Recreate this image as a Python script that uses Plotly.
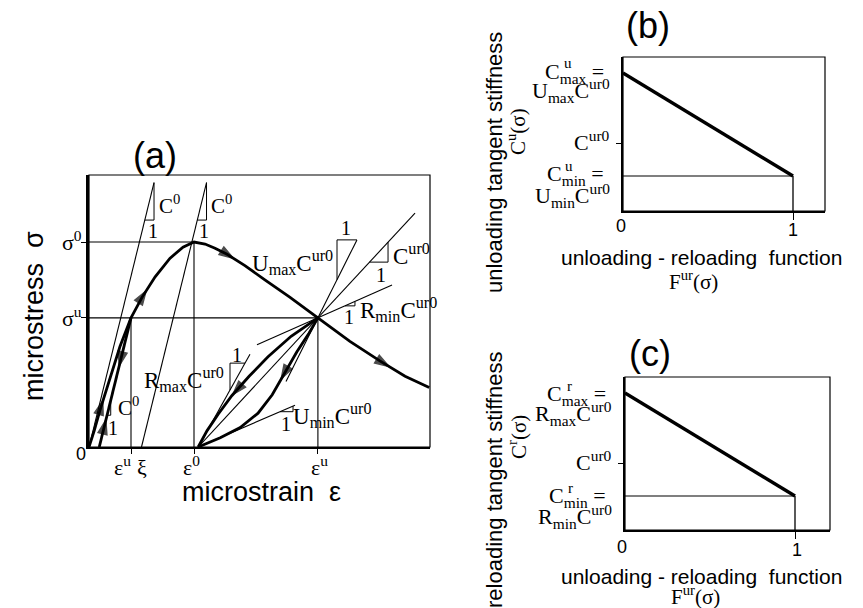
import plotly.graph_objects as go

W, H = 863, 608
SERIF = "Liberation Serif"
SANS = "Liberation Sans"

# ---------------- Panel (a): micro stress-strain schematic ----------------
# strain normalised by eps0, stress normalised by sig0
eps_u_pre = 0.40   # pre-peak unloading strain
xi = 0.50          # zero-stress strain of the C0 line through the peak
eps0 = 1.00        # peak strain
eps_r = 1.04       # zero-stress strain after post-peak unloading
eps_u = 2.18       # post-peak unloading strain
sig0 = 1.00        # peak stress
sig_u = 0.63       # unloading stress

c0_compliance = 0.48   # d(eps)/d(sigma) of the C0 lines
c0_top = 1.29          # stress at which C0 lines end
c0_tri_base = 1.107    # stress of slope-triangle base on C0 lines

main_eps = [0.00, 0.05, 0.105, 0.20, 0.295, 0.40, 0.505, 0.63, 0.77, 0.895, 1.00,
            1.105, 1.20, 1.315, 1.485, 1.675, 1.915, 2.18, 2.485, 2.77, 3.01, 3.24]
main_sig = [0.00, 0.08, 0.18, 0.34, 0.49, 0.63, 0.73, 0.83, 0.92, 0.975, 1.00,
            0.99, 0.97, 0.94, 0.885, 0.815, 0.73, 0.63, 0.515, 0.42, 0.345, 0.29]
reload_eps = [1.04, 1.125, 1.23, 1.36, 1.525, 1.705, 1.925, 2.18]
reload_sig = [0.00, 0.08, 0.16, 0.25, 0.345, 0.44, 0.54, 0.63]
unload_eps = [1.04, 1.25, 1.44, 1.61, 1.745, 1.855, 1.98, 2.095, 2.18]
unload_sig = [0.00, 0.045, 0.095, 0.165, 0.255, 0.355, 0.465, 0.555, 0.63]

# stiffness ratios relative to C^ur0
ratio_names = ["Cur0", "Umax", "Rmin", "Rmax", "Umin"]
ratio_values = [1.00, 1.85, 0.41, 1.66, 0.40]
ratio_anchor = ["r", "u", "u", "r", "r"]           # r: (eps_r,0)  u: (eps_u,sig_u)
line_span_lo = [1.04, 1.876, 1.60, 1.04, 1.04]
line_span_hi = [3.105, 2.552, 2.886, 1.533, 1.962]
tri_lo = [2.672, 2.362, 2.438, 1.343, 1.819]
tri_hi = [2.848, 2.552, 2.533, 1.486, 1.943]
tri_kind = ["lr", "ul", "lr", "ul", "lr"]

# ---------------- Panels (b), (c): tangent stiffness vs F^ur ----------------
F_vals = [0, 1]
b_C = [1.38, 0.35]   # C^u_max, C^u_min
b_Cur0 = 0.68
c_C = [1.37, 0.34]   # C^r_max, C^r_min
c_Cur0 = 0.67

fig = go.Figure()
SX, SY = 105.0, 205.0   # px per data unit in panel (a)


def add_line(xs, ys, ax="x", ay="y", width=1.1):
    fig.add_trace(go.Scatter(x=xs, y=ys, mode="lines",
                             line=dict(color="black", width=width),
                             xaxis=ax, yaxis=ay, hoverinfo="skip",
                             showlegend=False))


def slope_line(x0a, y0a, slope, xlo, xhi, tlo, thi, kind):
    f = lambda x: y0a + slope * (x - x0a)
    add_line([xlo, xhi], [f(xlo), f(xhi)])
    y1, y2 = f(tlo), f(thi)
    if kind == "lr":
        add_line([tlo, thi, thi], [y1, y1, y2], width=1.0)
    else:
        add_line([tlo, tlo, thi], [y1, y2, y2], width=1.0)


def arrow(xs, ys, target, reverse=False, size=15, ax="x", ay="y", sx=SX, sy=SY):
    tx, ty = target[0] * sx, target[1] * sy
    best = None
    for i in range(len(xs) - 1):
        x0, y0 = xs[i] * sx, ys[i] * sy
        x1, y1 = xs[i + 1] * sx, ys[i + 1] * sy
        dx, dy = x1 - x0, y1 - y0
        L2 = dx * dx + dy * dy
        t = max(0.0, min(1.0, ((tx - x0) * dx + (ty - y0) * dy) / L2))
        px, py = x0 + t * dx, y0 + t * dy
        d = (px - tx) ** 2 + (py - ty) ** 2
        if best is None or d < best[0]:
            best = (d, px, py, dx, dy)
    _, px, py, dx, dy = best
    L = (dx * dx + dy * dy) ** 0.5
    ux, uy = dx / L, dy / L
    if reverse:
        ux, uy = -ux, -uy
    bx, by = px - ux * 4, py - uy * 4
    fig.add_trace(go.Scatter(x=[bx / sx, px / sx], y=[by / sy, py / sy], mode="markers",
                             marker=dict(symbol="arrow", size=[0, size], angleref="previous",
                                         color="black", line=dict(width=1.3, color="black")),
                             xaxis=ax, yaxis=ay, hoverinfo="skip", showlegend=False))


# ---- panel (a) drawing ----
# reference lines
add_line([0, eps0], [sig0, sig0])
add_line([0, eps_u], [sig_u, sig_u])
add_line([eps_u_pre, eps_u_pre], [0, sig_u])
add_line([eps0, eps0], [0, sig0])
add_line([eps_u, eps_u], [0, sig_u])

# C0 lines
c = c0_compliance
slope_line(0, 0, 1 / c, 0, c * c0_top, c * c0_tri_base, c * c0_top, "lr")
slope_line(xi, 0, 1 / c, xi, xi + c * c0_top, xi + c * c0_tri_base, xi + c * c0_top, "lr")
pre_x0 = eps_u_pre - c * sig_u
add_line([pre_x0, eps_u_pre], [0, sig_u], width=2.8)
add_line([0.172, 0.207, 0.207], [(0.172 - pre_x0) / c, (0.172 - pre_x0) / c, (0.207 - pre_x0) / c], width=1.0)

# C^ur0 family of tangent lines
k_ur0 = sig_u / (eps_u - eps_r)
for i, r in enumerate(ratio_values):
    if ratio_anchor[i] == "r":
        ax0, ay0 = eps_r, 0.0
    else:
        ax0, ay0 = eps_u, sig_u
    slope_line(ax0, ay0, r * k_ur0, line_span_lo[i], line_span_hi[i], tri_lo[i], tri_hi[i], tri_kind[i])

# thick curves
add_line(main_eps, main_sig, width=2.8)
add_line(reload_eps, reload_sig, width=2.8)
add_line(unload_eps, unload_sig, width=2.8)

# arrows
arrow(main_eps, main_sig, (0.114, 0.229))
arrow(main_eps, main_sig, (0.533, 0.766))
arrow(main_eps, main_sig, (1.371, 0.917))
arrow(main_eps, main_sig, (2.838, 0.376))
pre_xs, pre_ys = [pre_x0, eps_u_pre], [0, sig_u]
arrow(pre_xs, pre_ys, (0.295, 0.395), reverse=True)
arrow(pre_xs, pre_ys, (0.162, 0.132))
arrow(unload_eps, unload_sig, (1.81, 0.337), reverse=True)
arrow(reload_eps, reload_sig, (1.381, 0.249), reverse=True)

# ---- panels (b) and (c) drawing ----
for ax, ay, C, Cur0 in (("x2", "y2", b_C, b_Cur0), ("x3", "y3", c_C, c_Cur0)):
    add_line([F_vals[0], F_vals[1]], [C[1], C[1]], ax, ay, width=1.1)
    add_line([F_vals[1], F_vals[1]], [C[1], 0], ax, ay, width=1.3)
    add_line(F_vals, C, ax, ay, width=3.4)

# ---------------- text ----------------
anns = []


def txt(s, px, py, size=22, family=SERIF, xanchor="center", yanchor="middle", angle=0):
    anns.append(dict(text=s, x=px / W, y=1 - py / H, xref="paper", yref="paper",
                     showarrow=False, xanchor=xanchor, yanchor=yanchor, textangle=angle,
                     font=dict(family=family, size=size, color="black")))


# panel (a)
txt("(a)", 155, 156, 36, SANS)
txt("microstress\u00a0\u00a0σ", 34, 316, 27, SANS, angle=-90)
txt("microstrain\u00a0\u00a0ε", 261, 492, 27, SANS)
txt("σ<sup>0</sup>", 84, 241, 22, xanchor="right")
txt("σ<sup>u</sup>", 84, 317, 22, xanchor="right")
txt("0", 81, 454, 18, SANS)
txt("ε<sup>u</sup>", 122, 466, 22)
txt("ξ", 142, 467, 22)
txt("ε<sup>0</sup>", 191, 466, 22)
txt("ε<sup>u</sup>", 319, 466, 22)

txt("C<sup>0</sup>", 157, 204, 21, xanchor="left")
txt("1", 153, 231, 20)
txt("C<sup>0</sup>", 209, 204, 21, xanchor="left")
txt("1", 204, 231, 20)
txt("C<sup>0</sup>", 116, 406, 21, xanchor="left")
txt("1", 113, 428, 20)
txt("U<sub>max</sub>C<sup>ur0</sup>", 335, 262, 23, xanchor="right")
txt("1", 346, 228, 20)
txt("C<sup>ur0</sup>", 391, 254, 23, xanchor="left")
txt("1", 381, 275, 20)
txt("R<sub>min</sub>C<sup>ur0</sup>", 358, 309, 23, xanchor="left")
txt("1", 349, 317, 20)
txt("R<sub>max</sub>C<sup>ur0</sup>", 226, 379, 23, xanchor="right")
txt("1", 237, 355, 20)
txt("U<sub>min</sub>C<sup>ur0</sup>", 291, 415, 23, xanchor="left")
txt("1", 286, 424, 20)

# panel (b)
txt("(b)", 648, 25, 36, SANS)
txt("unloading tangent stiffness", 494, 162, 22, SANS, angle=-90)
txt("C<sup>u</sup>(σ)", 517, 132, 21, angle=-90)
txt("unloading - reloading\u00a0\u00a0function", 701, 257, 21, SANS)
txt("F<sup>ur</sup>(σ)", 693, 280, 21)
txt("0", 621, 226, 18, SANS)
txt("1", 793, 230, 18, SANS)
txt("C<sub>max</sub> =", 606, 73, 22, xanchor="right")
txt("u", 562, 63, 15, xanchor="left")
txt("U<sub>max</sub>C<sup>ur0</sup>", 612, 90, 22, xanchor="right")
txt("C<sup>ur0</sup>", 612, 141, 22, xanchor="right")
txt("C<sub>min</sub> =", 606, 175, 22, xanchor="right")
txt("u", 563, 166, 15, xanchor="left")
txt("U<sub>min</sub>C<sup>ur0</sup>", 612, 195, 22, xanchor="right")

# panel (c)
txt("(c)", 650, 353, 36, SANS)
txt("reloading tangent stiffness", 494, 480, 22, SANS, angle=-90)
txt("C<sup>r</sup>(σ)", 517, 437, 21, angle=-90)
txt("unloading - reloading\u00a0\u00a0function", 701, 576, 21, SANS)
txt("F<sup>ur</sup>(σ)", 695, 595, 21)
txt("0", 622, 547, 18, SANS)
txt("1", 797, 550, 18, SANS)
txt("C<sub>max</sub> =", 608, 395, 22, xanchor="right")
txt("r", 565, 386, 15, xanchor="left")
txt("R<sub>max</sub>C<sup>ur0</sup>", 614, 413, 22, xanchor="right")
txt("C<sup>ur0</sup>", 614, 461, 22, xanchor="right")
txt("C<sub>min</sub> =", 608, 497, 22, xanchor="right")
txt("r", 566, 488, 15, xanchor="left")
txt("R<sub>min</sub>C<sup>ur0</sup>", 614, 516, 22, xanchor="right")

# ---------------- axes ----------------
common = dict(showgrid=False, zeroline=False, showticklabels=False, fixedrange=True,
              showline=True, linecolor="black", ticks="outside", tickcolor="black")

layout_axes = dict(
    xaxis=dict(domain=[89 / W, 430 / W], range=[0, 341 / SX], anchor="y", linewidth=2,
               ticklen=5, tickwidth=1.3, tickvals=[eps_u_pre, eps0, eps_u], **common),
    yaxis=dict(domain=[1 - 447 / H, 1 - 175 / H], range=[0, 272 / SY], anchor="x", linewidth=2.6,
               ticklen=5, tickwidth=1.3, tickvals=[sig_u, sig0], **common),
    xaxis2=dict(domain=[623 / W, 825 / W], range=[0, 202 / 170], anchor="y2", linewidth=2,
                ticklen=7, tickwidth=1.3, tickvals=[1], **common),
    yaxis2=dict(domain=[1 - 211 / H, 1 - 57 / H], range=[0, 1.54], anchor="x2", linewidth=2,
                ticklen=5, tickwidth=1.3, tickvals=[b_Cur0], **common),
    xaxis3=dict(domain=[625 / W, 830 / W], range=[0, 205 / 170], anchor="y3", linewidth=2,
                ticklen=7, tickwidth=1.3, tickvals=[1], **common),
    yaxis3=dict(domain=[1 - 530 / H, 1 - 377 / H], range=[0, 1.53], anchor="x3", linewidth=2,
                ticklen=5, tickwidth=1.3, tickvals=[c_Cur0], **common),
)

shapes = []
for sfx in ("", "2", "3"):
    shapes.append(dict(type="rect", xref="x%s domain" % sfx, yref="y%s domain" % sfx,
                       x0=0, x1=1, y0=0, y1=1, line=dict(color="black", width=1.2),
                       fillcolor="rgba(0,0,0,0)", layer="above"))

fig.update_layout(width=W, height=H, autosize=False,
                  margin=dict(l=0, r=0, t=0, b=0, pad=0),
                  paper_bgcolor="white", plot_bgcolor="white",
                  showlegend=False, annotations=anns, shapes=shapes, **layout_axes)

fig.write_html("out.html")
